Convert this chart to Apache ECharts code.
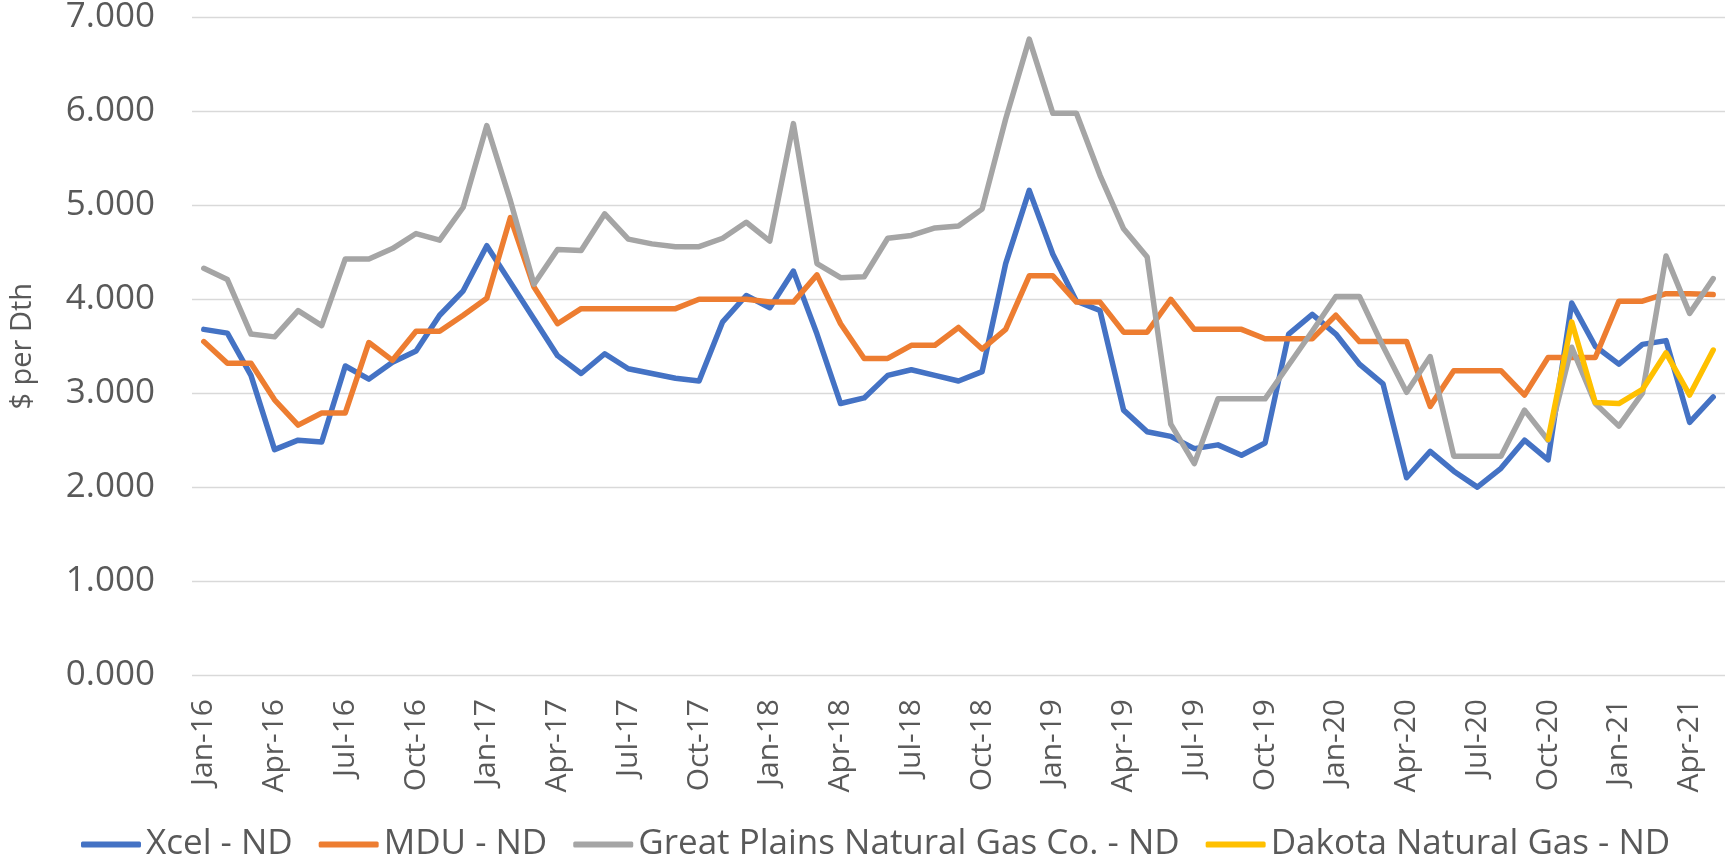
<!DOCTYPE html>
<html>
<head>
<meta charset="utf-8">
<script src="https://cdn.jsdelivr.net/npm/echarts@6/dist/echarts.min.js"></script>
<style>
  html, body { margin: 0; padding: 0; background: #fff; }
  #chart { width: 1725px; height: 866px; }
</style>
</head>
<body>
<div id="chart"></div>
<script>
// months Jan-16 .. May-21
const months = [
  "Jan-16","Feb-16","Mar-16","Apr-16","May-16","Jun-16","Jul-16","Aug-16","Sep-16","Oct-16","Nov-16","Dec-16",
  "Jan-17","Feb-17","Mar-17","Apr-17","May-17","Jun-17","Jul-17","Aug-17","Sep-17","Oct-17","Nov-17","Dec-17",
  "Jan-18","Feb-18","Mar-18","Apr-18","May-18","Jun-18","Jul-18","Aug-18","Sep-18","Oct-18","Nov-18","Dec-18",
  "Jan-19","Feb-19","Mar-19","Apr-19","May-19","Jun-19","Jul-19","Aug-19","Sep-19","Oct-19","Nov-19","Dec-19",
  "Jan-20","Feb-20","Mar-20","Apr-20","May-20","Jun-20","Jul-20","Aug-20","Sep-20","Oct-20","Nov-20","Dec-20",
  "Jan-21","Feb-21","Mar-21","Apr-21","May-21"
];

const xcel = [
  3.68, 3.64, 3.19, 2.40, 2.50, 2.48, 3.29, 3.15, 3.33, 3.45, 3.83, 4.09,
  4.57, 4.18, 3.79, 3.40, 3.21, 3.42, 3.26, 3.21, 3.16, 3.13, 3.76, 4.04,
  3.91, 4.30, 3.63, 2.89, 2.95, 3.19, 3.25, 3.19, 3.13, 3.23, 4.38, 5.16,
  4.48, 3.98, 3.88, 2.82, 2.59, 2.54, 2.41, 2.45, 2.34, 2.47, 3.63, 3.84,
  3.63, 3.31, 3.10, 2.10, 2.38, 2.17, 2.00, 2.20, 2.50, 2.29, 3.96, 3.50,
  3.31, 3.52, 3.56, 2.69, 2.96
];

const mdu = [
  3.55, 3.32, 3.32, 2.93, 2.66, 2.79, 2.79, 3.54, 3.35, 3.66, 3.66, 3.83,
  4.01, 4.87, 4.13, 3.74, 3.90, 3.90, 3.90, 3.90, 3.90, 4.00, 4.00, 4.00,
  3.97, 3.97, 4.26, 3.74, 3.37, 3.37, 3.51, 3.51, 3.70, 3.47, 3.68, 4.25,
  4.25, 3.97, 3.97, 3.65, 3.65, 4.00, 3.68, 3.68, 3.68, 3.58, 3.58, 3.58,
  3.83, 3.55, 3.55, 3.55, 2.86, 3.24, 3.24, 3.24, 2.98, 3.38, 3.38, 3.38,
  3.98, 3.98, 4.06, 4.06, 4.05
];

const greatPlains = [
  4.33, 4.21, 3.63, 3.60, 3.88, 3.72, 4.43, 4.43, 4.54, 4.70, 4.63, 4.98,
  5.85, 5.05, 4.16, 4.53, 4.52, 4.91, 4.64, 4.59, 4.56, 4.56, 4.65, 4.82,
  4.62, 5.87, 4.38, 4.23, 4.24, 4.65, 4.68, 4.76, 4.78, 4.96, 5.92, 6.77,
  5.98, 5.98, 5.32, 4.75, 4.45, 2.67, 2.25, 2.94, 2.94, 2.94, 3.30, 3.66,
  4.03, 4.03, 3.50, 3.01, 3.39, 2.33, 2.33, 2.33, 2.82, 2.50, 3.49, 2.89,
  2.65, 3.00, 4.46, 3.85, 4.22
];

// Dakota only reported from Oct-20
const dakota = [
  null, null, null, null, null, null, null, null, null, null, null, null,
  null, null, null, null, null, null, null, null, null, null, null, null,
  null, null, null, null, null, null, null, null, null, null, null, null,
  null, null, null, null, null, null, null, null, null, null, null, null,
  null, null, null, null, null, null, null, null, null, 2.51, 3.76, 2.90,
  2.89, 3.04, 3.43, 2.98, 3.46
];

const seriesNames = ["Xcel - ND", "MDU - ND", "Great Plains Natural Gas Co. - ND", "Dakota Natural Gas - ND"];
const colors = ["#4472C4", "#ED7D31", "#A5A5A5", "#FFC000"];

const textColor = "#595959";
const fontName = "Open Sans";

const chart = echarts.init(document.getElementById("chart"));

const lineSeries = (name, data) => ({
  name: name,
  type: "line",
  data: data,
  symbol: "none",
  connectNulls: false,
  lineStyle: { width: 5.5, cap: "round", join: "round" },
  emphasis: { disabled: true }
});

chart.setOption({
  animation: false,
  color: colors,
  textStyle: { fontFamily: fontName, color: textColor },
  grid: { left: 173, top: 17, width: 1556, bottom: 191 },
  legend: {
    left: 76,
    top: 822,
    icon: "roundRect",
    itemWidth: 60,
    itemHeight: 6,
    itemGap: 26,
    textStyle: { fontSize: 35, color: textColor, fontFamily: fontName }
  },
  xAxis: {
    type: "category",
    data: months,
    boundaryGap: true,
    axisLine: { show: false },
    axisTick: { show: false },
    axisLabel: {
      interval: 2,
      rotate: 90,
      margin: 24,
      fontSize: 30,
      color: textColor,
      fontFamily: fontName
    }
  },
  yAxis: {
    type: "value",
    min: 0,
    max: 7,
    interval: 1,
    name: "$ per Dth",
    nameLocation: "middle",
    nameRotate: 90,
    nameGap: 155,
    nameTextStyle: { fontSize: 29, color: textColor, fontFamily: fontName },
    axisLine: { show: false },
    axisTick: { show: false },
    axisLabel: {
      margin: 37,
      fontSize: 35,
      color: textColor,
      fontFamily: fontName,
      formatter: v => v.toFixed(3)
    },
    splitLine: { lineStyle: { color: "#D9D9D9", width: 1.3 } }
  },
  series: [
    lineSeries(seriesNames[0], xcel),
    lineSeries(seriesNames[1], mdu),
    lineSeries(seriesNames[2], greatPlains),
    lineSeries(seriesNames[3], dakota)
  ]
});
</script>
</body>
</html>
